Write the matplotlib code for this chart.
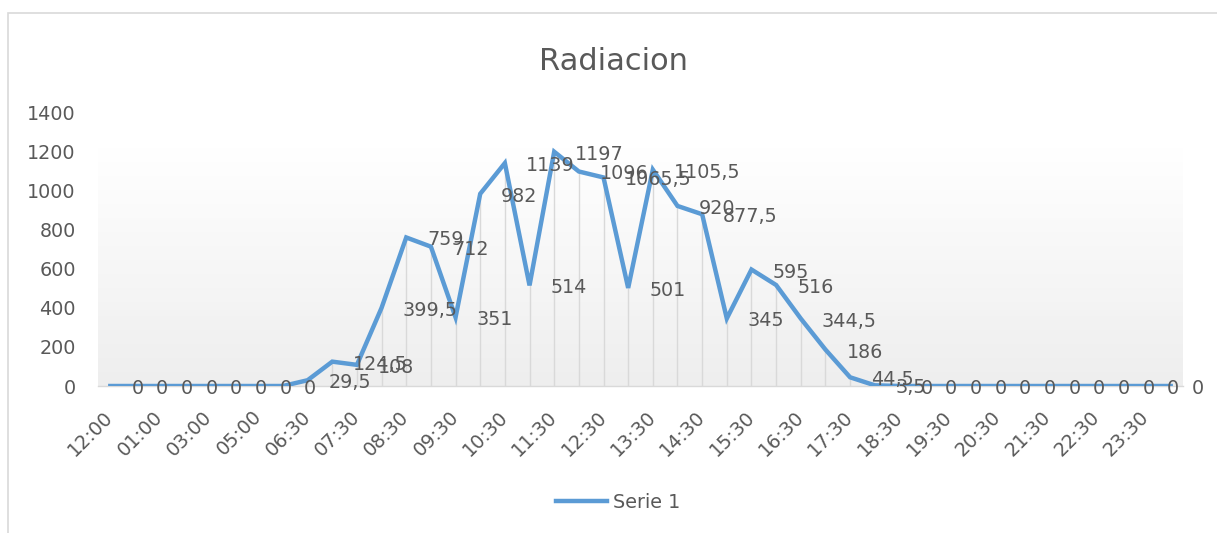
import numpy as np
import matplotlib.pyplot as plt
from matplotlib.colors import LinearSegmentedColormap
from matplotlib.patches import Rectangle

plt.rcParams['font.family'] = 'DejaVu Sans'

# categories (only every other one gets a tick label, as in the original)
categories = ['12:00', '12:30', '01:00', '02:00', '03:00', '04:00', '05:00', '06:00',
              '06:30', '07:00', '07:30', '08:00', '08:30', '09:00', '09:30', '10:00',
              '10:30', '11:00', '11:30', '12:00', '12:30', '13:00', '13:30', '14:00',
              '14:30', '15:00', '15:30', '16:00', '16:30', '17:00', '17:30', '18:00',
              '18:30', '19:00', '19:30', '20:00', '20:30', '21:00', '21:30', '22:00',
              '22:30', '23:00', '23:30', '00:00']
serie1 = [0, 0, 0, 0, 0, 0, 0, 0,
          29.5, 124.5, 108, 399.5, 759, 712, 351, 982, 1139, 514, 1197, 1096,
          1065.5, 501, 1105.5, 920, 877.5, 345, 595, 516, 344.5, 186, 44.5, 3.5,
          0, 0, 0, 0, 0, 0, 0, 0, 0, 0, 0, 0]
y_ticks = [0, 200, 400, 600, 800, 1000, 1200, 1400]

TXT = '#595959'
LINE = '#5B9BD5'
FS = 13.8

W, H = 1217, 533
fig = plt.figure(figsize=(W / 100, H / 100), dpi=100)
ax = fig.add_axes([98 / W, (H - 386) / H, (1183 - 98) / W, (386 - 112) / H])

x = np.arange(len(categories))
n = len(categories)

# light gradient in the plot area
grad = np.linspace(1, 0, 256).reshape(-1, 1)
cmap = LinearSegmentedColormap.from_list('g', ['#eeeeee', '#ffffff'])
ax.imshow(grad, extent=(-0.5, n - 0.5, 0, 1215), aspect='auto', cmap=cmap,
          origin='upper', zorder=0, vmin=0, vmax=1)

# drop lines
ax.vlines(x, 0, serie1, color='#d9d9d9', lw=1, zorder=1)
ax.plot(x, serie1, color=LINE, lw=3.2, solid_joinstyle='miter', zorder=3, label='Serie 1')

for xi, v in zip(x, serie1):
    lab = ('%g' % v).replace('.', ',')
    ax.annotate(lab, (xi, v), xytext=(21, -8), textcoords='offset pixels',
                ha='left', va='baseline', fontsize=FS, color=TXT, zorder=4,
                annotation_clip=False)

ax.set_xlim(-0.5, n - 0.5)
ax.set_ylim(0, 1400)
ax.set_yticks(y_ticks)
ax.set_xticks(x[::2])
ax.set_xticklabels(categories[::2])
plt.setp(ax.get_xticklabels(), rotation=45, ha='right', va='center',
         rotation_mode='anchor')
ax.tick_params(axis='both', length=0, labelsize=FS, labelcolor=TXT)
ax.tick_params(axis='y', pad=16)
ax.tick_params(axis='x', pad=20)

for s in ['top', 'right', 'left']:
    ax.spines[s].set_visible(False)
ax.spines['bottom'].set_color('#d9d9d9')
ax.spines['bottom'].set_linewidth(1)
ax.set_facecolor('none')

fig.text(614 / W, (H - 70) / H, 'Radiacion', ha='center', va='baseline',
         fontsize=22, color=TXT)

leg = fig.legend(loc='center', bbox_to_anchor=(618 / W, (H - 502) / H),
                 frameon=False, fontsize=FS, handlelength=2.7, handletextpad=0.3)
for t in leg.get_texts():
    t.set_color(TXT)

# chart border
fig.patches.append(Rectangle((8 / W, -0.1), 1.2, (H - 13) / H + 0.1,
                             transform=fig.transFigure, fill=False,
                             edgecolor='#d9d9d9', lw=1.2))

plt.savefig('out.png', dpi=100, facecolor='white')
